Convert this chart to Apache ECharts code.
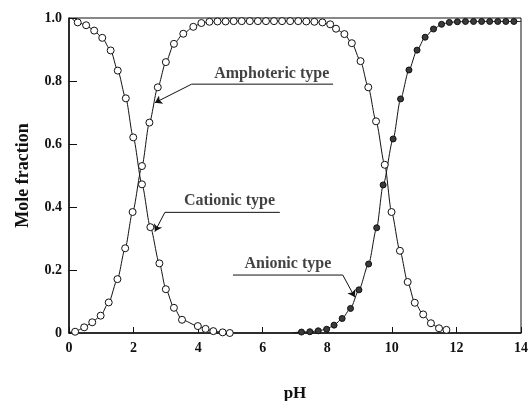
<!DOCTYPE html>
<html>
<head>
<meta charset="utf-8">
<script src="https://cdn.jsdelivr.net/npm/echarts@6/dist/echarts.min.js"></script>
<style>
  html, body { margin: 0; padding: 0; background: #fff; }
  #chart { width: 532px; height: 401px; }
</style>
</head>
<body>
<div id="chart"></div>
<script>
// Species distribution of an ampholyte versus pH: [pH, mole fraction]
const cationic = [
  [0.27, 0.986], [0.53, 0.977], [0.78, 0.960], [1.03, 0.937], [1.29, 0.897],
  [1.51, 0.833], [1.76, 0.745], [1.99, 0.621], [2.26, 0.472], [2.52, 0.336],
  [2.80, 0.221], [3.00, 0.139], [3.25, 0.080], [3.50, 0.042], [3.99, 0.022],
  [4.23, 0.013], [4.47, 0.006], [4.76, 0.002], [4.98, 0.000]
];
const amphoteric = [
  [0.19, 0.004], [0.47, 0.018], [0.72, 0.034], [0.98, 0.055], [1.23, 0.097],
  [1.50, 0.171], [1.74, 0.269], [1.97, 0.384], [2.26, 0.530], [2.49, 0.668],
  [2.75, 0.780], [3.00, 0.860], [3.25, 0.918], [3.54, 0.950], [3.85, 0.972],
  [4.10, 0.984], [4.35, 0.988], [4.60, 0.989], [4.85, 0.989], [5.10, 0.990],
  [5.35, 0.990], [5.60, 0.990], [5.85, 0.990], [6.10, 0.990], [6.35, 0.990],
  [6.60, 0.990], [6.85, 0.990], [7.10, 0.990], [7.35, 0.989], [7.60, 0.988],
  [7.85, 0.986], [8.09, 0.980], [8.27, 0.966], [8.53, 0.949], [8.76, 0.920],
  [9.03, 0.863], [9.27, 0.780], [9.51, 0.672], [9.78, 0.534], [9.99, 0.384],
  [10.25, 0.261], [10.49, 0.162], [10.71, 0.096], [10.97, 0.059], [11.21, 0.031],
  [11.46, 0.015], [11.69, 0.010]
];
const anionic = [
  [7.20, 0.003], [7.46, 0.004], [7.72, 0.007], [7.98, 0.012], [8.21, 0.025],
  [8.46, 0.046], [8.72, 0.078], [8.98, 0.137], [9.28, 0.219], [9.53, 0.334],
  [9.73, 0.470], [10.04, 0.616], [10.27, 0.743], [10.53, 0.835], [10.78, 0.898],
  [11.03, 0.939], [11.29, 0.965], [11.54, 0.980], [11.78, 0.986], [12.03, 0.988],
  [12.28, 0.989], [12.53, 0.989], [12.78, 0.989], [13.03, 0.989], [13.28, 0.989],
  [13.53, 0.989], [13.78, 0.989]
];
// Where each drawn curve begins and ends beyond its measured points
const cationicStart = [0.10, 0.997];
const amphotericStart = [0.0, 0.002];
const anionicStart = [6.95, 0.001];
const anionicEnd = [14.0, 0.989];

// Tick labels
const xTicks = [0, 2, 4, 6, 8, 10, 12, 14];
const yTicks = [0, 0.2, 0.4, 0.6, 0.8, 1.0];

// Labels with leader lines: text anchor, underline ends, arrow tip (pH, fraction)
const labels = [
  { text: 'Amphoteric type', at: [6.28, 0.822], line: [[8.18, 0.790], [3.80, 0.790], [2.66, 0.731]] },
  { text: 'Cationic type',   at: [4.97, 0.418], line: [[6.53, 0.383], [2.97, 0.383], [2.66, 0.322]] },
  { text: 'Anionic type',    at: [6.78, 0.218], line: [[5.08, 0.184], [8.48, 0.184], [8.85, 0.114]] }
];

const serif = '"Liberation Serif", "DejaVu Serif", serif';
const chart = echarts.init(document.getElementById('chart'), null, { renderer: 'canvas' });

function withEnds(start, pts, end) {
  const out = [{ value: start, symbol: 'none' }].concat(pts.map(p => ({ value: p })));
  if (end) out.push({ value: end, symbol: 'none' });
  return out;
}

const openMarker = { color: '#fff', borderColor: '#111', borderWidth: 1 };
const filledMarker = { color: '#3a3a3a', borderColor: '#111', borderWidth: 1 };

const curveSeries = [
  { name: 'Cationic type', data: withEnds(cationicStart, cationic), style: openMarker, size: 7 },
  { name: 'Amphoteric type', data: withEnds(amphotericStart, amphoteric), style: openMarker, size: 7 },
  { name: 'Anionic type', data: withEnds(anionicStart, anionic, anionicEnd), style: filledMarker, size: 6 }
].map(s => ({
  name: s.name,
  type: 'line',
  data: s.data,
  smooth: 0.25,
  smoothMonotone: 'x',
  symbol: 'circle',
  symbolSize: s.size,
  showAllSymbol: true,
  itemStyle: s.style,
  lineStyle: { color: '#111', width: 1 },
  z: 3,
  animation: false
}));

// Underline and first part of each leader
const leaderSeries = labels.map(l => ({
  type: 'line',
  data: l.line.slice(0, 2),
  symbol: 'none',
  lineStyle: { color: '#111', width: 1 },
  animation: false,
  silent: true,
  z: 2
}));

// Slanted segment ending in an arrowhead at the curve
const arrowHeads = {
  type: 'lines',
  coordinateSystem: 'cartesian2d',
  silent: true,
  animation: false,
  symbol: ['none', 'arrow'],
  symbolSize: 7,
  lineStyle: { color: '#111', width: 1, opacity: 1 },
  data: labels.map(l => ({ coords: [l.line[1], l.line[2]] })),
  z: 2
};

const textSeries = {
  type: 'scatter',
  symbol: 'circle',
  symbolSize: 1,
  itemStyle: { color: 'rgba(0,0,0,0)' },
  silent: true,
  animation: false,
  data: labels.map(l => ({
    value: l.at,
    label: {
      show: true,
      formatter: l.text,
      position: 'inside',
      fontFamily: serif,
      fontSize: 16,
      fontWeight: 'bold',
      color: '#111'
    }
  })),
  z: 4
};

chart.setOption({
  backgroundColor: '#fff',
  animation: false,
  grid: {
    left: 69, right: 11, top: 18, bottom: 68,
    show: true, borderColor: '#111', borderWidth: 1,
    containLabel: false, outerBoundsMode: 'none'
  },
  xAxis: {
    type: 'value',
    min: 0, max: 14, interval: 2,
    name: 'pH',
    nameLocation: 'middle',
    nameGap: 52,
    nameTextStyle: { fontFamily: serif, fontSize: 17, fontWeight: 'bold', color: '#111' },
    axisLine: { show: true, lineStyle: { color: '#111', width: 1.5 } },
    axisTick: { show: true, inside: true, length: 6, lineStyle: { color: '#111' } },
    splitLine: { show: false },
    axisLabel: {
      margin: 8,
      fontFamily: serif, fontSize: 14, fontWeight: 'bold', color: '#111',
      formatter: v => (xTicks.indexOf(v) >= 0 ? String(v) : '')
    }
  },
  yAxis: {
    type: 'value',
    min: 0, max: 1, interval: 0.2,
    name: 'Mole fraction',
    nameLocation: 'middle',
    nameGap: 37,
    nameTextStyle: { fontFamily: serif, fontSize: 18, fontWeight: 'bold', color: '#111' },
    axisLine: { show: true, lineStyle: { color: '#111', width: 1.5 } },
    axisTick: { show: true, inside: true, length: 8, lineStyle: { color: '#111' } },
    splitLine: { show: false },
    axisLabel: {
      margin: 7,
      fontFamily: serif, fontSize: 14, fontWeight: 'bold', color: '#111',
      formatter: v => {
        const t = yTicks.find(k => Math.abs(k - v) < 1e-6);
        if (t === undefined) return '';
        return t === 0 ? '0' : t.toFixed(1);
      }
    }
  },
  series: curveSeries.concat(leaderSeries, [arrowHeads, textSeries])
});
</script>
</body>
</html>
